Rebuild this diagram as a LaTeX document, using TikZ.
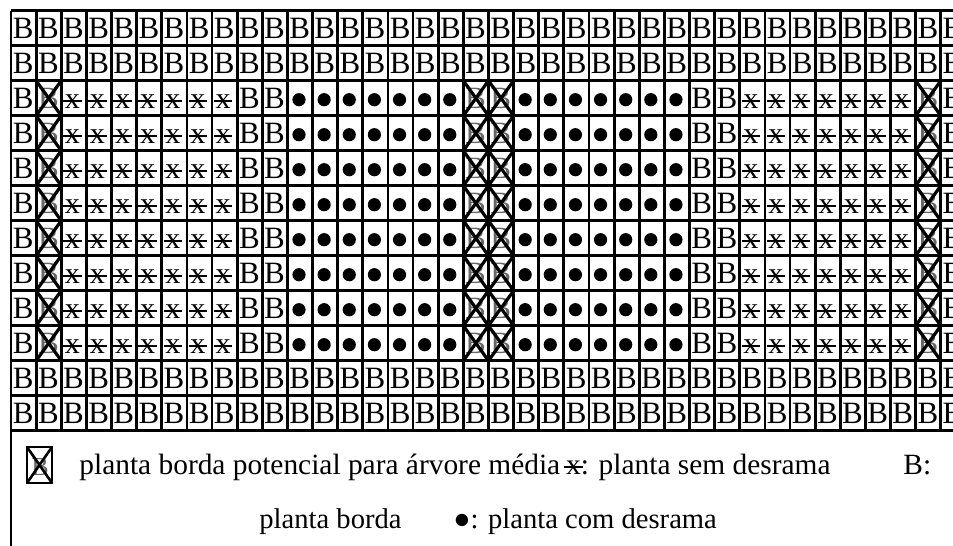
\documentclass[tikz,border=0pt]{standalone}
\usepackage{fontspec}
\setmainfont{Liberation Serif}
\usetikzlibrary{calc,positioning}

% x riscado (planta sem desrama)
\newcommand\riscx{\ooalign{x\cr\hidewidth\rule[0.22em]{0.62em}{0.055em}\hidewidth\cr}}
\def\cw{25.13}
\def\rh{35}

\begin{document}
\begin{tikzpicture}[x=0.5pt,y=-0.5pt,
    linha/.style={line width=1.4pt},
    cruz/.style={line width=1.6pt},
    letra/.style={inner sep=0pt,anchor=base west,font=\fontsize{15.5}{18}\selectfont},
    letrax/.style={inner sep=0pt,anchor=base,font=\fontsize{15}{18}\selectfont},
    legenda/.style={inner sep=0pt,anchor=base west,font=\fontsize{14.7}{18}\selectfont}]
  \useasboundingbox (0,0) rectangle (953,546);
  \clip (0,0) rectangle (953,546);

  % Linhas da tabela
  \foreach \c in {0,...,38}
    \draw[linha] ({11+\cw*\c},10.7) -- ({11+\cw*\c},430.7);
  \foreach \r in {0,...,12}
    \draw[linha] (11,{10.7+\rh*\r}) -- ({11+38*\cw},{10.7+\rh*\r});
  \draw[linha] (11,430.7) -- (11,546);

  % Bordadura: linhas de cima e de baixo
  \foreach \r in {0,1,10,11}
    \foreach \c in {0,...,37}
      \node[letra] (b-\r-\c) at ({11+\cw*\c+1.5},{10.7+\rh*(\r+0.5)+10.5}) {B};

  % Bordadura: colunas
  \foreach \r in {2,...,9}
    \foreach \c in {0,9,10,27,28,37}
      \node[letra] (b-\r-\c) at ({11+\cw*\c+1.5},{10.7+\rh*(\r+0.5)+10.5}) {B};

  % Plantas sem desrama
  \foreach \r in {2,...,9} {
    \foreach \c in {2,...,8}
      \node[letrax] (x-\r-\c) at ({11+\cw*(\c+0.5)-1.5},{10.7+\rh*(\r+0.5)+10}) {\riscx};
    \foreach \c in {29,...,35}
      \node[letrax] (x-\r-\c) at ({11+\cw*(\c+0.5)-1.5},{10.7+\rh*(\r+0.5)+10}) {\riscx};
  }

  % Plantas com desrama
  \foreach \r in {2,...,9} {
    \foreach \c in {11,...,17}
      \fill ({11+\cw*(\c+0.5)-1},{10.7+\rh*(\r+0.5)+1.5}) circle (6.6);
    \foreach \c in {20,...,26}
      \fill ({11+\cw*(\c+0.5)-1},{10.7+\rh*(\r+0.5)+1.5}) circle (6.6);
  }

  % Bordadura potencial para arvore media
  \foreach \r in {2,...,9}
    \foreach \c in {1,18,19,36} {
      \node[letra,text=black!60] (p-\r-\c) at ({11+\cw*\c+1.5},{10.7+\rh*(\r+0.5)+10.5}) {B};
      \draw[cruz] ({11+\cw*\c},{10.7+\rh*\r}) -- ({11+\cw*(\c+1)},{10.7+\rh*(\r+1)});
      \draw[cruz] ({11+\cw*(\c+1)},{10.7+\rh*\r}) -- ({11+\cw*\c},{10.7+\rh*(\r+1)});
    }

  % Legenda
  \node[letra,text=black!60,font=\fontsize{13}{15}\selectfont] (icone) at (31,475) {B};
  \draw[line width=1.1pt] (27,447) rectangle (52,483);
  \draw[line width=1.3pt] (27,447) -- (52,483) (52,447) -- (27,483);
  \node[legenda] (leg1a) at (79,474) {planta borda potencial para árvore média\kern0.2em\riscx: planta sem desrama};
  \node[legenda] (leg1c) at (903,474) {B:};
  \node[legenda,font=\fontsize{14.3}{18}\selectfont] (leg2a) at (259,528) {planta borda};
  \node[legenda,font=\fontsize{14.3}{18}\selectfont] (leg2b) at (453,528) {●: planta com desrama};
\end{tikzpicture}
\end{document}
